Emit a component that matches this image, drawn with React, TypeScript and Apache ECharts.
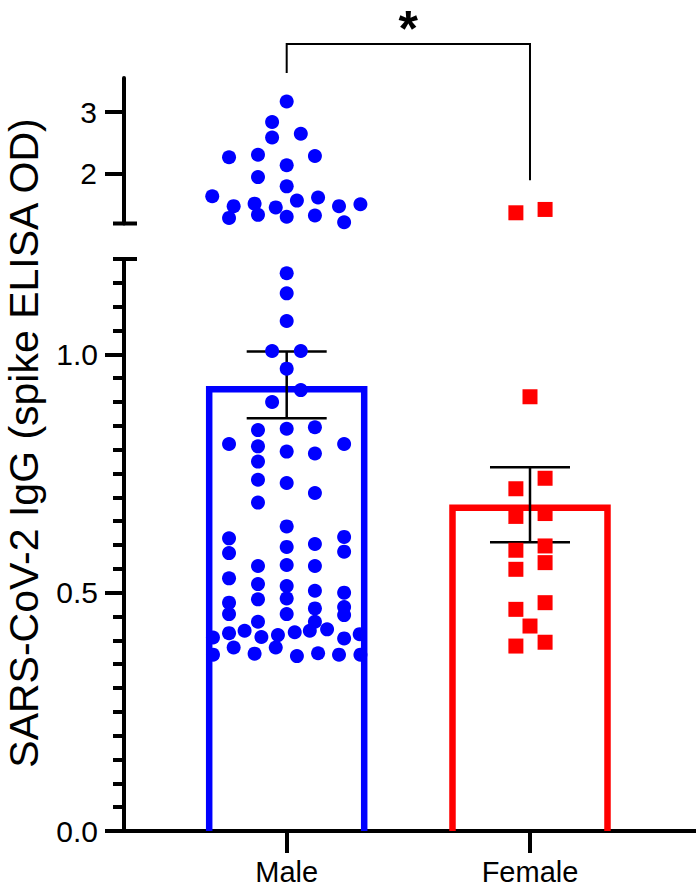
import React, { useEffect, useRef } from 'react';
import * as echarts from 'echarts';

// ---------- data ----------
const categories = ['Male', 'Female'];
const lowerTickValues = [0, 0.5, 1.0];
const upperTickValues = [2, 3];
const barMeans = [0.927, 0.678];
const semLow = [0.866, 0.606];
const semHigh = [1.006, 0.763];

// male values above the axis break and their horizontal jitter (category units)
const maleUpperY = [3.17, 2.84, 2.59, 2.65, 2.27, 2.31, 2.29, 2.14, 1.95, 1.8, 1.64, 1.48, 1.52, 1.46, 1.57, 1.62, 1.48, 1.51, 1.29, 1.34, 1.31, 1.33, 1.22];
const maleUpperX = [0, -0.06, -0.06, 0.058, -0.237, -0.118, 0.116, 0, -0.118, 0, -0.306, -0.218, -0.132, -0.045, 0.042, 0.129, 0.215, 0.303, -0.237, -0.118, 0, 0.116, 0.236];

// male values below the axis break
const maleLowerY = [
  1.17, 1.128, 1.07, 1.007, 1.007, 0.97, 0.925, 0.9, 0.841, 0.844, 0.847,
  0.812, 0.812, 0.807, 0.796, 0.792, 0.775, 0.737, 0.73, 0.709, 0.689,
  0.639, 0.614, 0.617, 0.583, 0.596, 0.602, 0.586, 0.556, 0.558, 0.556,
  0.53, 0.518, 0.514, 0.504, 0.5, 0.486, 0.488, 0.479, 0.47, 0.467,
  0.455, 0.455, 0.453, 0.439, 0.439, 0.423, 0.42, 0.415, 0.417, 0.42,
  0.411, 0.407, 0.406, 0.413, 0.404,
  0.37, 0.385, 0.372, 0.385, 0.367, 0.373, 0.37, 0.37,
];
const maleLowerX = [
  0, 0, 0, -0.06, 0.058, 0, 0.058, -0.06, -0.118, 0, 0.116,
  -0.237, 0.236, -0.118, 0, 0.116, -0.118, -0.118, 0, 0.116, -0.118,
  0, -0.237, 0.236, -0.237, 0, 0.116, 0.236, -0.118, 0, 0.116,
  -0.237, -0.118, 0, 0.116, 0.236, -0.118, 0, -0.237, 0.236, 0.116,
  -0.237, 0, 0.236, 0.116, -0.118, 0.166, -0.173, -0.237, 0.033, 0.095,
  -0.036, -0.104, -0.303, 0.3, 0.236,
  -0.303, -0.218, -0.132, -0.045, 0.042, 0.129, 0.215, 0.303,
];

// female values
const femaleUpperY = [1.373, 1.427];
const femaleUpperX = [-0.058, 0.062];
const femaleLowerY = [0.911, 0.74, 0.718, 0.66, 0.666, 0.589, 0.598, 0.549, 0.563, 0.465, 0.479, 0.43, 0.388, 0.396];
const femaleLowerX = [0, 0.062, -0.058, -0.058, 0.062, -0.058, 0.062, -0.058, 0.062, -0.058, 0.062, 0, -0.058, 0.062];

// significance bracket (upper-segment units) and label
const bracketTop = 4.1;
const bracketLeftEnd = 3.63;
const bracketRightEnd = 1.9;
const starLabel = '*';
const starY = 4.745;

const yTitle = 'SARS-CoV-2 IgG (spike ELISA OD)';

// ---------- layout constants ----------
const X_MIN = -0.6687;
const X_MAX = 1.6823;
const UPPER_MIN = 1.2;
const UPPER_MAX = 3.55;
const LOWER_MIN = 0;
const LOWER_MAX = 1.2;
const BLUE = '#0000ff';
const RED = '#ff0000';
const FONT = '"Liberation Sans", Arial, Helvetica, sans-serif';

function pts(ys: number[], xs: number[], cat: number) {
  return ys.map((y, i) => [cat + xs[i], y]);
}

export default function App() {
  const ref = useRef<HTMLDivElement>(null);

  useEffect(() => {
    if (!ref.current) return;
    const chart = echarts.init(ref.current, null, { renderer: 'svg' });

    const barHalfPx = 77.5;
    const capHalfPx = 40;
    const labelStyle = { color: '#000', fontSize: 30, fontFamily: FONT };

    const option: any = {
      animation: false,
      backgroundColor: '#ffffff',
      grid: [
        { left: 124, right: 0, top: 78, height: 145.5, containLabel: false, outerBoundsMode: 'none' },
        { left: 124, right: 0, top: 259, height: 572, containLabel: false, outerBoundsMode: 'none' },
      ],
      xAxis: [
        { type: 'value', gridIndex: 0, min: X_MIN, max: X_MAX, show: false },
        {
          type: 'value', gridIndex: 1, min: X_MIN, max: X_MAX, position: 'bottom',
          axisLine: { show: true, onZero: false, lineStyle: { color: '#000', width: 4 } },
          axisTick: { show: true, customValues: [0, 1], length: 22, lineStyle: { color: '#000', width: 4 } },
          axisLabel: {
            show: true, customValues: [0, 1], margin: 26,
            formatter: (v: number) => categories[Math.round(v)] ?? '',
            ...labelStyle, fontSize: 29,
          },
          splitLine: { show: false },
        },
      ],
      yAxis: [
        {
          type: 'value', gridIndex: 0, min: UPPER_MIN, max: UPPER_MAX, position: 'left',
          axisLine: { show: true, onZero: false, lineStyle: { color: '#000', width: 4 } },
          axisTick: { show: true, customValues: upperTickValues, length: 19, lineStyle: { color: '#000', width: 4 } },
          axisLabel: {
            show: true, customValues: upperTickValues, margin: 27,
            formatter: (v: number) => String(v),
            ...labelStyle,
          },
          splitLine: { show: false },
        },
        {
          type: 'value', gridIndex: 1, min: LOWER_MIN, max: LOWER_MAX, interval: 0.05, position: 'left',
          axisLine: { show: true, onZero: false, lineStyle: { color: '#000', width: 4 } },
          axisTick: { show: true, length: 11, lineStyle: { color: '#000', width: 4 } },
          axisLabel: { show: false },
          splitLine: { show: false },
        },
        {
          type: 'value', gridIndex: 1, min: LOWER_MIN, max: LOWER_MAX, position: 'left', offset: 0,
          axisLine: { show: false, onZero: false },
          axisTick: { show: true, customValues: lowerTickValues, length: 19, lineStyle: { color: '#000', width: 4 } },
          axisLabel: {
            show: true, customValues: lowerTickValues, margin: 26,
            formatter: (v: number) => v.toFixed(1),
            ...labelStyle,
          },
          splitLine: { show: false },
        },
      ],
      series: [
        // bars (open outline, no bottom edge)
        {
          type: 'custom', xAxisIndex: 1, yAxisIndex: 1, z: 2, clip: false,
          data: barMeans.map((m, i) => [i, m]),
          renderItem: (params: any, api: any) => {
            const i = params.dataIndex;
            const top = api.coord([api.value(0), api.value(1)]);
            const base = api.coord([api.value(0), 0]);
            return {
              type: 'polyline',
              shape: {
                points: [
                  [top[0] - barHalfPx, base[1]],
                  [top[0] - barHalfPx, top[1]],
                  [top[0] + barHalfPx, top[1]],
                  [top[0] + barHalfPx, base[1]],
                ],
              },
              style: { stroke: i === 0 ? BLUE : RED, lineWidth: 6.5, fill: 'none', lineJoin: 'miter' },
            };
          },
        },
        // error bars (SEM)
        {
          type: 'custom', xAxisIndex: 1, yAxisIndex: 1, z: 3, clip: false,
          data: barMeans.map((m, i) => [i, semLow[i], semHigh[i]]),
          renderItem: (params: any, api: any) => {
            const lo = api.coord([api.value(0), api.value(1)]);
            const hi = api.coord([api.value(0), api.value(2)]);
            const st = { stroke: '#000', lineWidth: 2.5 };
            return {
              type: 'group',
              children: [
                { type: 'line', shape: { x1: lo[0], y1: lo[1], x2: hi[0], y2: hi[1] }, style: st },
                { type: 'line', shape: { x1: lo[0] - capHalfPx, y1: lo[1], x2: lo[0] + capHalfPx, y2: lo[1] }, style: st },
                { type: 'line', shape: { x1: hi[0] - capHalfPx, y1: hi[1], x2: hi[0] + capHalfPx, y2: hi[1] }, style: st },
              ],
            };
          },
        },
        // scatter points
        {
          type: 'scatter', xAxisIndex: 1, yAxisIndex: 1, z: 4,
          symbol: 'circle', symbolSize: 14, itemStyle: { color: BLUE, opacity: 1 },
          data: pts(maleLowerY, maleLowerX, 0),
        },
        {
          type: 'scatter', xAxisIndex: 0, yAxisIndex: 0, z: 4,
          symbol: 'circle', symbolSize: 14, itemStyle: { color: BLUE, opacity: 1 },
          data: pts(maleUpperY, maleUpperX, 0),
        },
        {
          type: 'scatter', xAxisIndex: 1, yAxisIndex: 1, z: 4,
          symbol: 'rect', symbolSize: 15, itemStyle: { color: RED, opacity: 1 },
          data: pts(femaleLowerY, femaleLowerX, 1),
        },
        {
          type: 'scatter', xAxisIndex: 0, yAxisIndex: 0, z: 4,
          symbol: 'rect', symbolSize: 15, itemStyle: { color: RED, opacity: 1 },
          data: pts(femaleUpperY, femaleUpperX, 1),
        },
        // axis-break caps
        {
          type: 'custom', xAxisIndex: 0, yAxisIndex: 0, z: 5, clip: false,
          data: [[X_MIN, UPPER_MIN]],
          renderItem: (params: any, api: any) => {
            const p = api.coord([api.value(0), api.value(1)]);
            return { type: 'line', shape: { x1: p[0] - 11, y1: p[1], x2: p[0] + 13, y2: p[1] }, style: { stroke: '#000', lineWidth: 4 } };
          },
        },
        {
          type: 'custom', xAxisIndex: 1, yAxisIndex: 1, z: 5, clip: false,
          data: [[X_MIN, LOWER_MAX]],
          renderItem: (params: any, api: any) => {
            const p = api.coord([api.value(0), api.value(1)]);
            return { type: 'line', shape: { x1: p[0] - 11, y1: p[1], x2: p[0] + 13, y2: p[1] }, style: { stroke: '#000', lineWidth: 4 } };
          },
        },
        // significance bracket
        {
          type: 'custom', xAxisIndex: 0, yAxisIndex: 0, z: 5, clip: false,
          data: [[0, 1, bracketLeftEnd, bracketRightEnd, bracketTop, starY]],
          renderItem: (params: any, api: any) => {
            const a = api.coord([api.value(0), api.value(2)]);
            const b = api.coord([api.value(0), api.value(4)]);
            const c = api.coord([api.value(1), api.value(4)]);
            const d = api.coord([api.value(1), api.value(3)]);
            const s = api.coord([(api.value(0) + api.value(1)) / 2, api.value(5)]);
            return {
              type: 'group',
              children: [
                { type: 'polyline', shape: { points: [a, b, c, d] }, style: { stroke: '#000', lineWidth: 2, fill: 'none' } },
                {
                  type: 'text', x: s[0], y: s[1],
                  style: { text: starLabel, fontSize: 50, fontWeight: 'bold', fontFamily: FONT, fill: '#000', align: 'center', verticalAlign: 'top' },
                },
              ],
            };
          },
        },
      ],
      graphic: [
        {
          type: 'text', x: 24, y: 443, rotation: Math.PI / 2,
          style: { text: yTitle, fontSize: 41, fontFamily: FONT, fill: '#000', align: 'center', verticalAlign: 'middle' },
        },
      ],
    };

    chart.setOption(option);
    return () => chart.dispose();
  }, []);

  return <div ref={ref} style={{ position: 'fixed', left: 0, top: 0, width: 696, height: 888, background: '#fff' }} />;
}
